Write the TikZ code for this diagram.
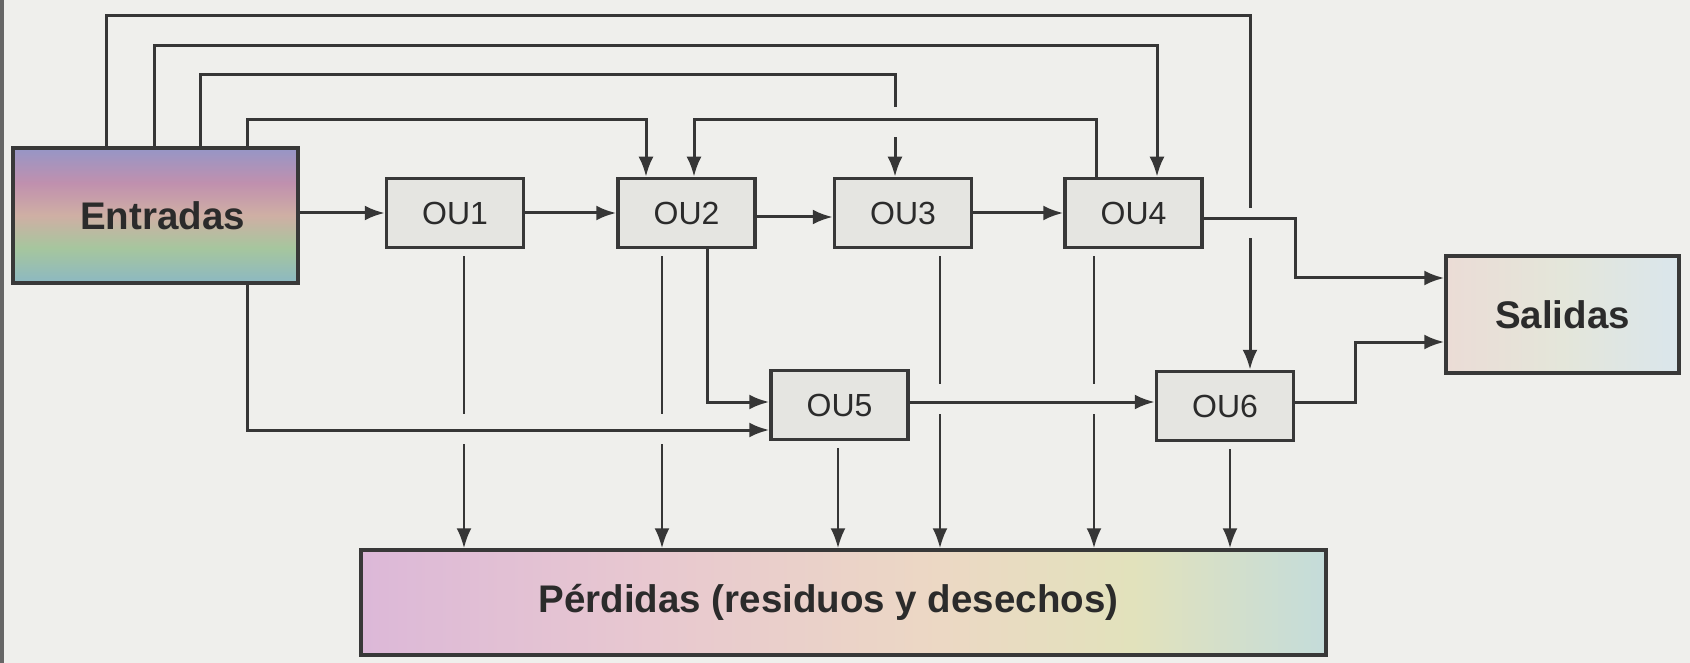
\documentclass[tikz,border=0pt]{standalone}
\usepackage{fontspec}
\setmainfont{Liberation Sans}
\usetikzlibrary{arrows.meta,calc}
\definecolor{bg}{HTML}{EFEFEC}
\definecolor{ln}{HTML}{363636}
\definecolor{bd}{HTML}{383838}
\definecolor{oufill}{HTML}{E5E5E1}
\definecolor{tx}{HTML}{2B2B2B}
\definecolor{enA}{HTML}{8CB8C2}
\definecolor{enB}{HTML}{A6C69E}
\definecolor{enC}{HTML}{CFAFA4}
\definecolor{enD}{HTML}{C090AE}
\definecolor{enE}{HTML}{9696C6}
\definecolor{peA}{HTML}{DCB8D8}
\definecolor{peB}{HTML}{E8C8D0}
\definecolor{peC}{HTML}{ECD8C4}
\definecolor{peD}{HTML}{E2E2BC}
\definecolor{peE}{HTML}{C4DCDA}
\definecolor{saA}{HTML}{EBDCD6}
\definecolor{saB}{HTML}{E4E6DA}
\definecolor{saC}{HTML}{DAE6EC}
\pgfdeclareverticalshading{entshade}{100bp}{color(0bp)=(enA); color(25bp)=(enA); color(38bp)=(enB); color(50bp)=(enC); color(62bp)=(enD); color(75bp)=(enE); color(100bp)=(enE)}
\pgfdeclarehorizontalshading{pershade}{100bp}{color(0bp)=(peA); color(25bp)=(peA); color(40bp)=(peB); color(55bp)=(peC); color(65bp)=(peD); color(75bp)=(peE); color(100bp)=(peE)}
\pgfdeclarehorizontalshading{salshade}{100bp}{color(0bp)=(saA); color(25bp)=(saA); color(50bp)=(saB); color(75bp)=(saC); color(100bp)=(saC)}
% #1 crossing point, #2 vertical offset of the gap centre (canvas, positive = up)
\newcommand\gapat[2]{\fill[bg] ([xshift=-7pt,yshift=#2-15pt]#1) rectangle ([xshift=7pt,yshift=#2+15pt]#1);}
\begin{document}
\begin{tikzpicture}[x=1pt,y=-1pt,
  box/.style={draw=bd, line width=3.5pt, rectangle, inner sep=0pt, text=tx},
  ou/.style={box, fill=oufill, minimum width=137pt, minimum height=69pt, font=\fontsize{32}{38}\selectfont},
  bigfont/.style={font=\bfseries\fontsize{38.5}{46}\selectfont},
  big/.style={box, bigfont},
  con/.style={draw=ln, line width=3pt},
  arr/.style={con, -{Latex[length=20pt,width=15pt]}},
  dn/.style={arr, line width=2.6pt, shorten <=7pt}]
\fill[bg] (0,0) rectangle (1690,663);
\useasboundingbox (0,0) rectangle (1690,663);
\fill[black!60] (0,0) rectangle (4,663);
% nodes
\node[big, shading=entshade, minimum width=285pt, minimum height=135pt] (ent) at (155.5,215.5) {};
\node[bigfont, text=tx, inner sep=0pt] (enttxt) at ([xshift=7pt]ent.center) {Entradas};
\node[ou] (ou1) at (455,213) {OU1};
\node[ou] (ou2) at (686.5,213) {OU2};
\node[ou] (ou3) at (903,213) {OU3};
\node[ou] (ou4) at (1133.5,213) {OU4};
\node[ou] (ou5) at (839.5,405) {OU5};
\node[ou] (ou6) at (1225,406) {OU6};
\node[big, shading=salshade, minimum width=233pt, minimum height=117pt] (sal) at (1562.5,314.5) {Salidas};
\node[big, shading=pershade, minimum width=965pt, minimum height=105pt] (per) at (843.5,602.5) {};
\node[bigfont, text=tx, inner sep=0pt] (pertxt) at ([xshift=-15pt]per.center) {Pérdidas (residuos y desechos)};
% anchor coordinates
\coordinate (e1) at ([xshift=-49.5pt]ent.north);
\coordinate (e2) at ([xshift=-1.5pt]ent.north);
\coordinate (e3) at ([xshift=44.5pt]ent.north);
\coordinate (e4) at ([xshift=91.5pt]ent.north);
\coordinate (e5) at ([xshift=91.5pt]ent.south);
\coordinate (o6t) at ([xshift=25pt]ou6.north);
\coordinate (o4t) at ([xshift=23.5pt]ou4.north);
\coordinate (o3t) at ([xshift=-8pt]ou3.north);
\coordinate (o2t) at ([xshift=-40.5pt]ou2.north);
\coordinate (o2f) at ([xshift=7.5pt]ou2.north);
\coordinate (o4f) at ([xshift=-37.5pt]ou4.north);
\coordinate (o2b) at ([xshift=20.5pt]ou2.south);
\coordinate (o4r) at ([yshift=-6pt]ou4.east);
\coordinate (o6r) at ([yshift=4pt]ou6.east);
\coordinate (s1) at ([yshift=36.5pt]sal.west);
\coordinate (s2) at ([yshift=-27.5pt]sal.west);
\coordinate (o5in) at ([yshift=-25pt]ou5.west);
\coordinate (o5fb) at ([yshift=3pt]ou5.west);
\coordinate (o5r) at ([yshift=3pt]ou5.east);
\coordinate (d1) at ([xshift=9pt]ou1.south);
\coordinate (d2) at ([xshift=-24.5pt]ou2.south);
\coordinate (d5) at ([xshift=-1.5pt]ou5.south);
\coordinate (d3) at ([xshift=37pt]ou3.south);
\coordinate (d4) at ([xshift=-39.5pt]ou4.south);
\coordinate (d6) at ([xshift=5pt]ou6.south);
% top bypass lines
\draw[arr] (e1) |- (0,16 -| o6t) -- (o6t);
\draw[arr] (e2) |- (0,46 -| o4t) -- (o4t);
\draw[arr] (e3) |- (0,75 -| o3t) -- (o3t);
\draw[arr] (e4) |- (0,120 -| o2t) -- (o2t);
% main chain
\draw[arr] (ou1.west -| ent.east) -- (ou1.west);
\draw[arr] (ou1.east) -- (ou2.west);
\draw[arr] ([yshift=-4pt]ou2.east) -- ([yshift=-4pt]ou3.west);
\draw[arr] (ou3.east) -- (ou4.west);
\draw[arr] (o2b) |- (o5fb);
\draw[arr] (o6r) -| (s2 -| 1355,0) -- (s2);
% losses
\draw[dn] (d1) -- (d1 |- per.north);
\draw[dn] (d2) -- (d2 |- per.north);
\draw[dn] (d5) -- (d5 |- per.north);
\draw[dn] (d3) -- (d3 |- per.north);
\draw[dn] (d4) -- (d4 |- per.north);
\draw[dn] (d6) -- (d6 |- per.north);
% gaps at crossings
\coordinate (g1) at (o6t |- o4r);
\coordinate (g2) at (o3t |- 0,120);
\coordinate (g3) at (d1 |- o5in);
\coordinate (g4) at (d2 |- o5in);
\coordinate (g5) at (d3 |- o5r);
\coordinate (g6) at (d4 |- o5r);
\gapat{g1}{-4pt}\gapat{g2}{-2pt}\gapat{g3}{1pt}\gapat{g4}{1pt}\gapat{g5}{3pt}\gapat{g6}{3pt}
% crossing lines drawn over the gaps
\draw[arr] (o4f) |- (0,120 -| o2f) -- (o2f);
\draw[arr] (e5) |- (o5in);
\draw[arr] (o5r) -- (o5r -| ou6.west);
\draw[arr] (o4r) -| (s1 -| 1295,0) -- (s1);
\end{tikzpicture}
\end{document}
